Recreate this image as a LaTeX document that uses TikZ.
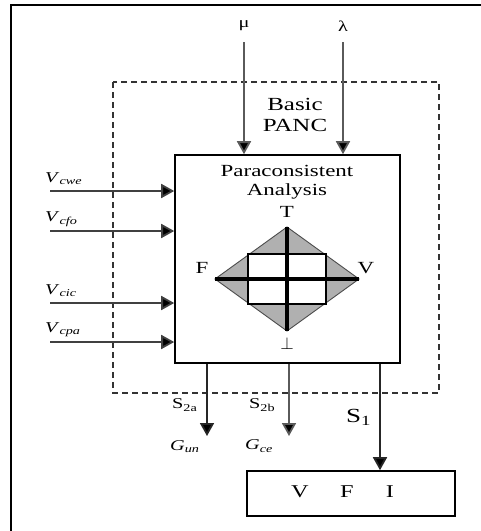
\documentclass[tikz,border=0pt]{standalone}
\usepackage{fontspec}
\setmainfont{Liberation Serif}[FakeStretch=1.35]
\usetikzlibrary{arrows.meta}
\definecolor{linegray}{HTML}{5A5A5A}
\definecolor{fillgray}{HTML}{B0B0B0}
\newcommand{\vlab}[1]{\textit{V}\textsubscript{\textit{#1}}}
\begin{document}
\begin{tikzpicture}[x=1pt,y=-1pt,
  arr/.style={line width=1.8pt,draw=linegray,-{Triangle[width=14pt,length=13pt,fill=black]}},
  blackarr/.style={line width=1.8pt,draw=black!85,-{Triangle[width=14pt,length=13pt,fill=black]}},
  lbl/.style={inner sep=0pt,font=\fontsize{17}{20}\selectfont},
  sub/.style={inner sep=0pt,font=\fontsize{15}{17}\selectfont},
  vin/.style={inner sep=0pt,anchor=west,font=\fontsize{15}{17}\selectfont}]
\useasboundingbox (0,0) rectangle (481,531);
% outer frame (top and left only)
\draw[line width=2.6pt] (11,531) -- (11,5) -- (481,5);
% dashed basic PANC box
\draw[line width=1.6pt,draw=black!80,dash pattern=on 6pt off 4pt] (113,82) rectangle (439,393);
\node[lbl,align=center,font=\fontsize{18.5}{21}\selectfont] (basic) at (295,115) {Basic\\PANC};
% inner analysis box
\node[draw,line width=1.6pt,minimum width=225pt,minimum height=208pt,inner sep=0pt] (panc) at (287.5,259) {};
\node[lbl,align=center,font=\fontsize{17}{19}\selectfont] (para) at (287,182) {Paraconsistent\\Analysis};
% lattice diagram
\coordinate (c) at (287,279);
\coordinate (dt) at (287,227);
\coordinate (db) at (287,331);
\coordinate (dl) at (215,279);
\coordinate (dr) at (359,279);
\filldraw[fill=fillgray,draw=black!70,line width=0.9pt] (dt) -- (dr) -- (db) -- (dl) -- cycle;
\filldraw[fill=white,draw=black,line width=1.6pt] (248,254) rectangle (326,304);
\draw[line width=3.2pt] (dt) -- (db);
\draw[line width=3.2pt] (dl) -- (dr);
\node[lbl] (t) at (287,212) {T};
\node[lbl] (f) at (202,268) {F};
\node[lbl] (v) at (366,268) {V};
\node[lbl] (bot) at (287,343) {$\perp$};
% mu, lambda inputs
\node[sub] (mu) at (244,26) {μ};
\node[sub] (lam) at (343,26) {λ};
\coordinate (mu0) at (244,42);
\coordinate (lam0) at (343,42);
\draw[arr] (mu0) -- (mu0 |- panc.north);
\draw[arr] (lam0) -- (lam0 |- panc.north);
% left inputs
\foreach \y/\n/\s in {191/a/cwe,231/b/cfo,303/c/cic,342/d/cpa}{
  \coordinate (in\n) at (50,\y);
  \draw[arr,draw=black!75] (in\n) -- (in\n -| panc.west);
  \node[vin] (lab\n) at (45,\y-12) {\vlab{\s}};
}
% outputs
\coordinate (o2a) at (207,436);
\coordinate (o2b) at (289,436);
\draw[blackarr] (o2a |- panc.south) -- (o2a);
\draw[arr] (o2b |- panc.south) -- (o2b);
\node[sub,anchor=west] (s2a) at (172,405) {S\textsubscript{2a}};
\node[sub,anchor=west] (s2b) at (249,405) {S\textsubscript{2b}};
\node[sub,anchor=west] (gun) at (170,447) {\textit{G}\textsubscript{\textit{un}}};
\node[sub,anchor=west] (gce) at (245,446) {\textit{G}\textsubscript{\textit{ce}}};
% VFI box
\node[draw,line width=1.6pt,minimum width=208pt,minimum height=45pt,inner sep=0pt] (vfi) at (351,493.5) {};
\node[lbl,font=\fontsize{18}{20}\selectfont] (vv) at (300,492) {V};
\node[lbl,font=\fontsize{18}{20}\selectfont] (ff) at (347,492) {F};
\node[lbl,font=\fontsize{18}{20}\selectfont] (ii) at (390,492) {I};
\coordinate (s1x) at (380,0);
\draw[blackarr] (s1x |- panc.south) -- (s1x |- vfi.north);
\node[lbl,anchor=west,font=\fontsize{20}{22}\selectfont] (s1) at (346,417) {S\textsubscript{1}};
\end{tikzpicture}
\end{document}
